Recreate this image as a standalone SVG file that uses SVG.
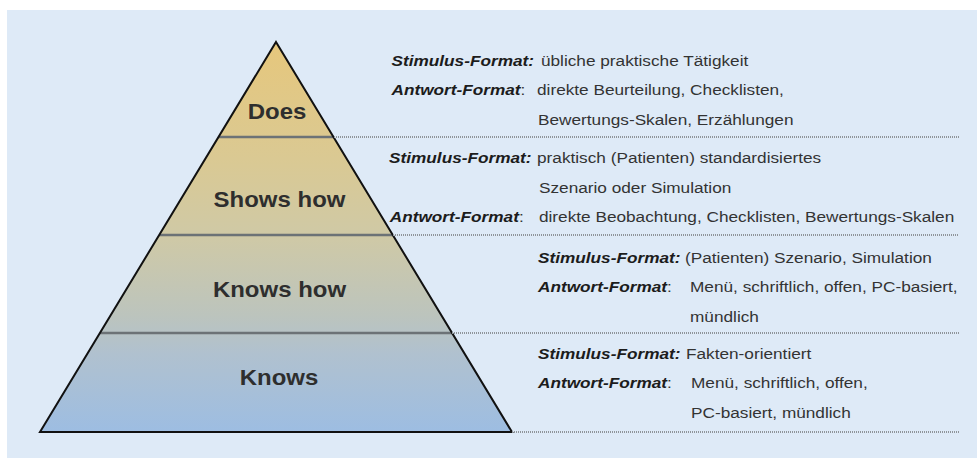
<svg xmlns="http://www.w3.org/2000/svg" width="977" height="458" viewBox="0 0 977 458">
  <defs>
    <linearGradient id="pyrGrad" gradientUnits="userSpaceOnUse" x1="0" y1="42" x2="0" y2="432">
      <stop offset="0" stop-color="#e6c77c"/>
      <stop offset="0.3" stop-color="#dac993"/>
      <stop offset="0.5" stop-color="#cfc9a6"/>
      <stop offset="0.7" stop-color="#bcc4bd"/>
      <stop offset="0.8" stop-color="#b0c1cf"/>
      <stop offset="1" stop-color="#9dbde2"/>
    </linearGradient>
    <style>
      .band { fill: url(#pyrGrad); stroke: none; }
      .lvl { font-family: "Liberation Sans", Arial, sans-serif; font-weight: bold; font-size: 22px; fill: #2e2e2e; text-anchor: middle; }
      .desc { font-family: "Liberation Sans", Arial, sans-serif; font-size: 14px; fill: #333333; }
      .lab { font-weight: bold; font-style: italic; fill: #1c1c1c; }
      .divider { stroke: #6c7276; stroke-width: 2.5; }
      .dots { stroke: #8f959a; stroke-width: 2; stroke-dasharray: 1 1; fill: none; }
    </style>
  </defs>

  <rect x="0" y="0" width="977" height="458" fill="#ffffff"/>
  <rect x="7" y="10" width="970" height="448" fill="#deeaf7"/>

  <g id="level-does">
    <polygon class="band" points="276,42 333.5,137 218.5,137"/>
    <text class="lvl" transform="translate(277,119) scale(1.09 1)">Does</text>
  </g>
  <g id="level-shows-how">
    <polygon class="band" points="218.5,137 333.5,137 392.8,235 159.2,235"/>
    <text class="lvl" transform="translate(279.5,207) scale(1.09 1)">Shows how</text>
  </g>
  <g id="level-knows-how">
    <polygon class="band" points="159.2,235 392.8,235 452.1,333 99.9,333"/>
    <text class="lvl" transform="translate(279.5,297) scale(1.09 1)">Knows how</text>
  </g>
  <g id="level-knows">
    <polygon class="band" points="99.9,333 452.1,333 512,432 40,432"/>
    <text class="lvl" transform="translate(279,385) scale(1.09 1)">Knows</text>
  </g>

  <g id="pyramid-lines">
    <line class="divider" x1="218.5" y1="137" x2="333.5" y2="137"/>
    <line class="divider" x1="159.2" y1="235" x2="392.8" y2="235"/>
    <line class="divider" x1="99.9" y1="333" x2="452.1" y2="333"/>
    <polygon points="276,42 512,432 40,432" fill="none" stroke="#111111" stroke-width="2" stroke-linejoin="miter"/>
  </g>

  <g id="connectors">
    <line class="dots" x1="334" y1="137" x2="959" y2="137"/>
    <line class="dots" x1="393" y1="235" x2="959" y2="235"/>
    <line class="dots" x1="452" y1="333" x2="959" y2="333"/>
    <line class="dots" x1="512" y1="432" x2="959" y2="432"/>
  </g>

  <g id="desc-does" class="desc" transform="scale(1.23 1)">
    <text x="318.3" y="66"><tspan class="lab">Stimulus-Format:</tspan></text>
    <text x="439.8" y="66">übliche praktische Tätigkeit</text>
    <text x="318.3" y="95.5"><tspan class="lab">Antwort-Format</tspan>:</text>
    <text x="436.6" y="95.5">direkte Beurteilung, Checklisten,</text>
    <text x="437.4" y="125">Bewertungs-Skalen, Erzählungen</text>
  </g>

  <g id="desc-shows-how" class="desc" transform="scale(1.23 1)">
    <text x="316.3" y="163.5"><tspan class="lab">Stimulus-Format:</tspan></text>
    <text x="436.6" y="163.5">praktisch (Patienten) standardisiertes</text>
    <text x="438.2" y="193">Szenario oder Simulation</text>
    <text x="316.9" y="222.5"><tspan class="lab">Antwort-Format</tspan>:</text>
    <text x="438.2" y="222.5">direkte Beobachtung, Checklisten, Bewertungs-Skalen</text>
  </g>

  <g id="desc-knows-how" class="desc" transform="scale(1.23 1)">
    <text x="437.4" y="263"><tspan class="lab">Stimulus-Format:</tspan></text>
    <text x="556.9" y="263">(Patienten) Szenario, Simulation</text>
    <text x="437.4" y="292.5"><tspan class="lab">Antwort-Format</tspan>:</text>
    <text x="561.0" y="292.5">Menü, schriftlich, offen, PC-basiert,</text>
    <text x="561.0" y="322">mündlich</text>
  </g>

  <g id="desc-knows" class="desc" transform="scale(1.23 1)">
    <text x="437.4" y="359"><tspan class="lab">Stimulus-Format:</tspan></text>
    <text x="557.7" y="359">Fakten-orientiert</text>
    <text x="437.4" y="388.5"><tspan class="lab">Antwort-Format</tspan>:</text>
    <text x="561.8" y="388.5">Menü, schriftlich, offen,</text>
    <text x="561.8" y="418">PC-basiert, mündlich</text>
  </g>
</svg>
